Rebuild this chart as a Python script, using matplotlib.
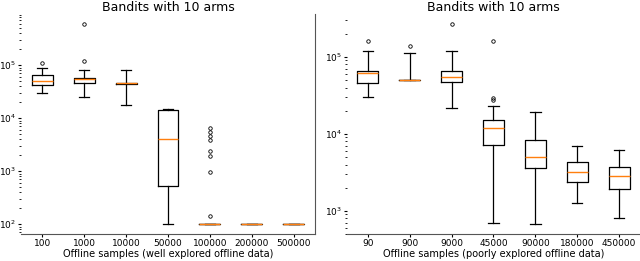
import matplotlib.pyplot as plt
import numpy as np

# left panel: well explored offline data
left_labels = ['100', '1000', '10000', '50000', '100000', '200000', '500000']
left_whislo = [3.0e4, 2.5e4, 1.8e4, 100, 100, 100, 100]
left_q1 = [4.2e4, 4.6e4, 4.4e4, 530, 100, 100, 100]
left_med = [5.0e4, 5.4e4, 4.6e4, 4.0e3, 100, 100, 100]
left_q3 = [6.5e4, 5.7e4, 4.7e4, 1.45e4, 100, 100, 100]
left_whishi = [9.0e4, 8.0e4, 8.0e4, 1.5e4, 100, 100, 100]
left_fliers = [[1.1e5], [5.9e5, 1.2e5], [], [],
               [6.5e3, 5.5e3, 4.6e3, 3.9e3, 2.4e3, 1.9e3, 950, 140], [], []]

# right panel: poorly explored offline data
right_labels = ['90', '900', '9000', '45000', '90000', '180000', '450000']
right_whislo = [3.0e4, 5.0e4, 2.2e4, 700, 680, 1.27e3, 800]
right_q1 = [4.6e4, 5.0e4, 4.7e4, 7.2e3, 3.6e3, 2.4e3, 1.9e3]
right_med = [6.2e4, 5.0e4, 5.5e4, 1.2e4, 5.0e3, 3.2e3, 2.85e3]
right_q3 = [6.6e4, 5.0e4, 6.6e4, 1.5e4, 8.4e3, 4.3e3, 3.7e3]
right_whishi = [1.2e5, 1.13e5, 1.2e5, 2.3e4, 1.9e4, 7.0e3, 6.2e3]
right_fliers = [[1.6e5], [1.4e5], [2.7e5], [1.6e5, 2.9e4, 2.8e4], [], [], []]


def make_stats(labels, lo, q1, med, q3, hi, fl):
    return [dict(label=l, whislo=a, q1=b, med=c, q3=d, whishi=e, fliers=f)
            for l, a, b, c, d, e, f in zip(labels, lo, q1, med, q3, hi, fl)]


def draw(ax, stats, ylim, xlabel):
    ax.bxp(stats, showfliers=True,
           flierprops=dict(marker='o', markersize=2.5, markerfacecolor='none',
                           markeredgecolor='black', markeredgewidth=0.6),
           boxprops=dict(linewidth=0.9),
           whiskerprops=dict(linewidth=0.9),
           capprops=dict(linewidth=0.9),
           medianprops=dict(color='#ff7f0e', linewidth=1.0))
    ax.set_yscale('log')
    ax.set_ylim(*ylim)
    ax.set_title('Bandits with 10 arms', fontsize=9, pad=2)
    ax.set_xlabel(xlabel, fontsize=7, labelpad=1)
    ax.tick_params(axis='both', labelsize=6.5, length=2, pad=1.5)
    ax.tick_params(axis='y', which='minor', length=1.5)
    ax.spines['top'].set_visible(False)
    ax.spines['left'].set_visible(False)
    for s in ax.spines.values():
        s.set_color('#555555')


fig = plt.figure(figsize=(6.4, 2.61), dpi=100)
ax1 = fig.add_axes([0.033, 0.103, 0.459, 0.843])
ax2 = fig.add_axes([0.542, 0.103, 0.458, 0.843])

draw(ax1, make_stats(left_labels, left_whislo, left_q1, left_med, left_q3,
                     left_whishi, left_fliers),
     (65, 9.2e5), 'Offline samples (well explored offline data)')
draw(ax2, make_stats(right_labels, right_whislo, right_q1, right_med, right_q3,
                     right_whishi, right_fliers),
     (500, 3.6e5), 'Offline samples (poorly explored offline data)')
ax2.spines['right'].set_visible(False)

fig.savefig('out.png', dpi=100)
